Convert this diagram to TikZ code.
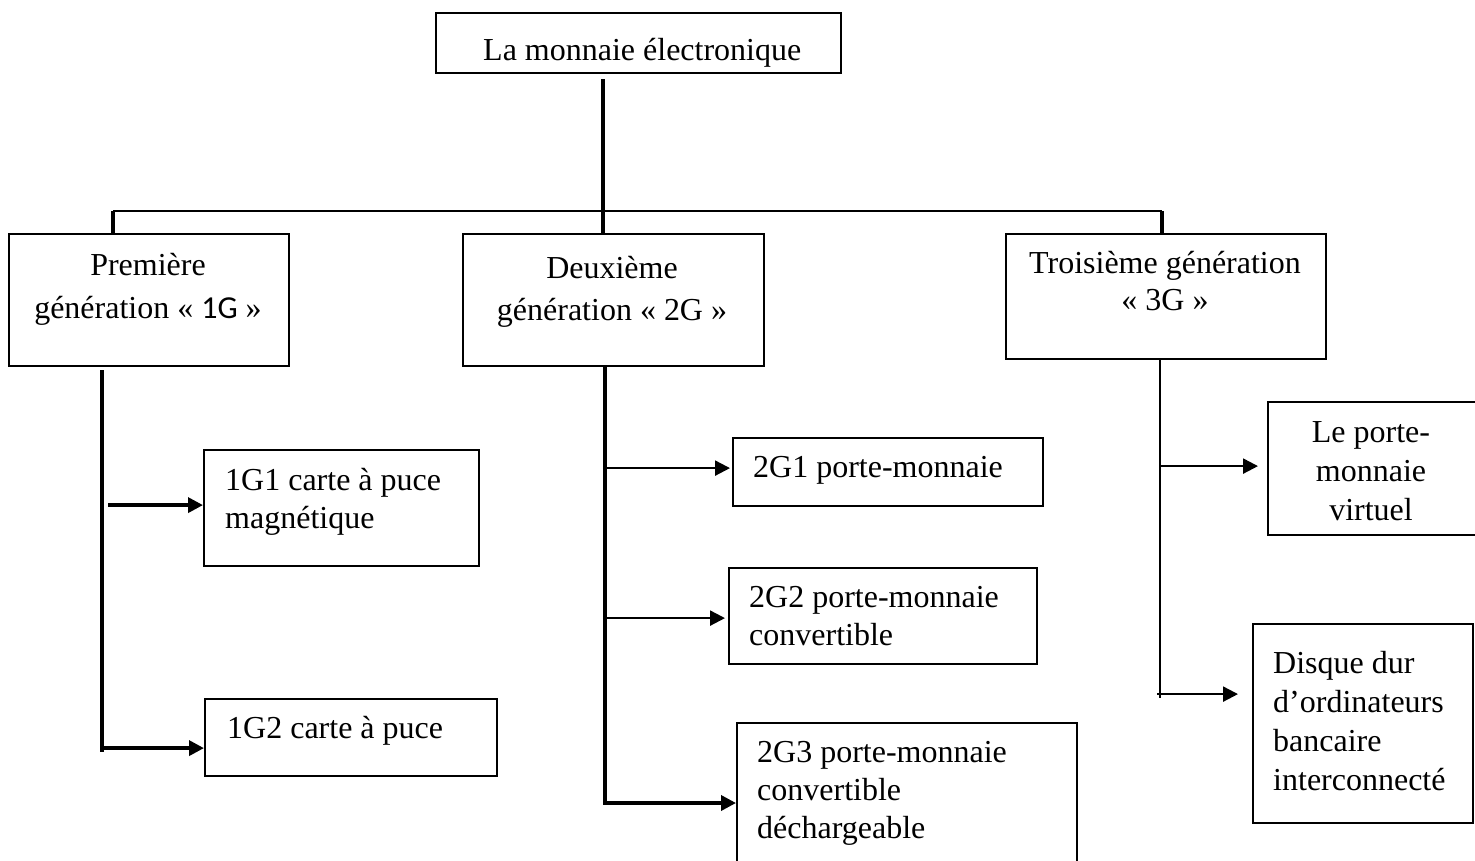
\documentclass[tikz,border=0pt]{standalone}
\usepackage{fontspec}
\setmainfont{Liberation Serif}
\newfontfamily\carlito{Carlito}
\usetikzlibrary{arrows.meta,calc}
\newcommand\txtc[2]{\vtop{\baselineskip=#1pt\lineskiplimit=-100pt\halign{\hfil##\hfil\cr#2\crcr}}}
\newcommand\txtl[2]{\vtop{\baselineskip=#1pt\lineskiplimit=-100pt\halign{##\hfil\cr#2\crcr}}}
\begin{document}
\begin{tikzpicture}[x=1pt,y=-1pt,
  box/.style={draw, line width=2.2pt, inner sep=0pt, anchor=north west},
  lab/.style={inner sep=0pt, font=\fontsize{32}{38}\selectfont},
  w1/.style={line width=1.3pt},
  w2/.style={line width=2.3pt},
  w3/.style={line width=3.5pt},
  w4/.style={line width=4pt},
  arr/.style={-{Triangle[length=15pt,width=15pt]}}]
\fill[white] (0,0) rectangle (1475,860);
\useasboundingbox (0,0) rectangle (1475,860);

% boxes
\node[box, minimum width=405pt, minimum height=60pt] (top) at (435,12) {};
\node[box, minimum width=280pt, minimum height=132pt] (gen1) at (8,233) {};
\node[box, minimum width=301pt, minimum height=132pt] (gen2) at (462,233) {};
\node[box, minimum width=320pt, minimum height=125pt] (gen3) at (1005,233) {};
\node[box, minimum width=275pt, minimum height=116pt] (b11) at (203,449) {};
\node[box, minimum width=292pt, minimum height=77pt] (b12) at (204,698) {};
\node[box, minimum width=310pt, minimum height=68pt] (b21) at (732,437) {};
\node[box, minimum width=308pt, minimum height=96pt] (b22) at (728,567) {};
\node[box, minimum width=340pt, minimum height=160pt] (b23) at (736,722) {};
\node[box, minimum width=215pt, minimum height=133pt] (b31) at (1267,401) {};
\node[box, minimum width=220pt, minimum height=199pt] (b32) at (1252,623) {};

% texts
\node[lab, anchor=base west] (t0) at (483,60) {La monnaie électronique};
\node[lab, anchor=base] (tg1) at (148,275) {\txtc{43}{Première\cr génération « {\carlito 1G} »}};
\node[lab, anchor=base] (tg2) at (612,278) {\txtc{42}{Deuxième\cr génération « 2G »}};
\node[lab, anchor=base] (tg3) at (1165,273) {\txtc{37}{Troisième génération\cr « 3G »}};
\node[lab, anchor=base west] (t11) at (225,490) {\txtl{38}{1G1 carte à puce\cr magnétique}};
\node[lab, anchor=base west] (t12) at (227,738) {1G2 carte à puce};
\node[lab, anchor=base west] (t21) at (753,477) {2G1 porte-monnaie};
\node[lab, anchor=base west] (t22) at (749,607) {\txtl{38}{2G2 porte-monnaie\cr convertible}};
\node[lab, anchor=base west] (t23) at (757,762) {\txtl{38}{2G3 porte-monnaie\cr convertible\cr déchargeable}};
\node[lab, anchor=base] (t31) at (1371,442) {\txtc{39}{Le porte-\cr monnaie\cr virtuel}};
\node[lab, anchor=base west] (t32) at (1273,673) {\txtl{39}{Disque dur\cr d’ordinateurs\cr bancaire\cr interconnecté}};

% junction coordinates
\coordinate (hub) at (603,211);
\coordinate (hl) at (113,211);
\coordinate (hr) at (1162,211);
\coordinate (v1t) at (102,370);
\coordinate (v1b) at (102,752);
\coordinate (v2b) at (605,803);
\coordinate (v3b) at (1160,698);

% top level connectors
\draw[w3] ($(top.south -| hub)+(0,5)$) -- (hub |- gen2.north);
\draw[w1] (hl) -- (hr);
\draw[w4] (hl) -- (hl |- gen1.north);
\draw[w4] (hr) -- (hr |- gen3.north);

% first generation
\draw[w3] (v1t) -- (v1b);
\draw[w3, arr] ($(v1t |- b11.west)+(6,-3)$) -- ($(b11.west)+(0,-3)$);
\draw[w3, arr] ($(v1t |- b12.west)+(0,10.5)$) -- ($(b12.west)+(0,10.5)$);

% second generation
\draw[w3, arr] (gen2.south -| v2b) -- (v2b) -- (v2b -| b23.west);
\draw[w2, arr] ($(v2b |- b21.west)+(-2,-4)$) -- ($(b21.west)+(-2,-4)$);
\draw[w2, arr] ($(v2b |- b22.west)+(0,2)$) -- ($(b22.west)+(-3,2)$);

% third generation
\draw[w1] (gen3.south -| v3b) -- (v3b);
\draw[w2, arr] ($(v3b |- b31.west)+(0,-2.5)$) -- ($(b31.west)+(-9,-2.5)$);
\draw[w2, arr] ($(v3b |- b32.west)+(-3,-29.5)$) -- ($(b32.west)+(-14,-29.5)$);
\end{tikzpicture}
\end{document}
